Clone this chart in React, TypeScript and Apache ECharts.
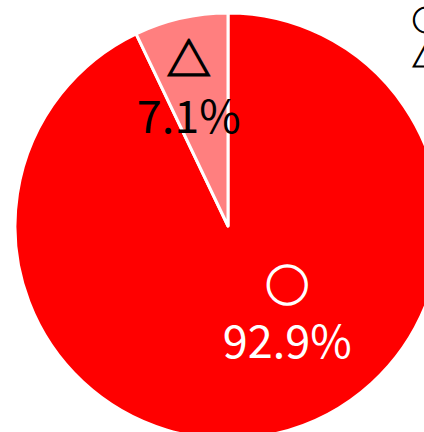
import React, { useEffect, useRef } from "react";
import * as echarts from "echarts";

const categories = ["○", "△"];
const values = [92.9, 7.1];
const colors = ["#ff0000", "#ff7f7f"];
const labelColors = ["#ffffff", "#000000"];

export default function App() {
  const ref = useRef<HTMLDivElement>(null);
  useEffect(() => {
    const chart = echarts.init(ref.current!, null, { renderer: "svg" });
    const font = "'Noto Sans CJK JP', 'Noto Sans', sans-serif";
    chart.setOption({
      animation: false,
      textStyle: { fontFamily: font },
      legend: {
        orient: "vertical",
        left: 402,
        top: -1,
        itemWidth: 0,
        itemHeight: 0,
        itemGap: 6,
        icon: "none",
        data: categories,
        textStyle: {
          fontSize: 28,
          lineHeight: 30,
          color: "#000000",
          textBorderColor: "#000000",
          textBorderWidth: 1,
          fontFamily: font,
        },
      },
      series: [
        {
          type: "pie",
          center: [228, 226],
          radius: 213,
          startAngle: 90,
          clockwise: true,
          data: categories.map((c, i) => ({
            name: c,
            value: values[i],
            itemStyle: { color: colors[i], borderColor: "#ffffff", borderWidth: 3 },
            label: {
              color: labelColors[i],
              rich: {
                s: {
                  fontSize: 44,
                  lineHeight: 56,
                  color: labelColors[i],
                  textBorderColor: labelColors[i],
                  textBorderWidth: 1.5,
                  fontFamily: font,
                },
                v: { fontSize: 45, lineHeight: 56, color: labelColors[i], fontFamily: font },
              },
            },
          })),
          label: {
            show: true,
            position: "inside",
            fontSize: 45,
            lineHeight: 58,
            fontFamily: font,
            formatter: (p: any) => `{s|${p.name}}\n{v|${p.value.toFixed(1)}%}`,
          },
          labelLine: { show: false },
          labelLayout: (p: any) =>
            p.dataIndex === 0 ? { dx: 35, dy: -22 } : { dx: -15, dy: -34 },
        },
      ],
    });
    return () => chart.dispose();
  }, []);
  return <div ref={ref} style={{ width: 424, height: 432, position: "absolute", left: 0, top: 0 }} />;
}
